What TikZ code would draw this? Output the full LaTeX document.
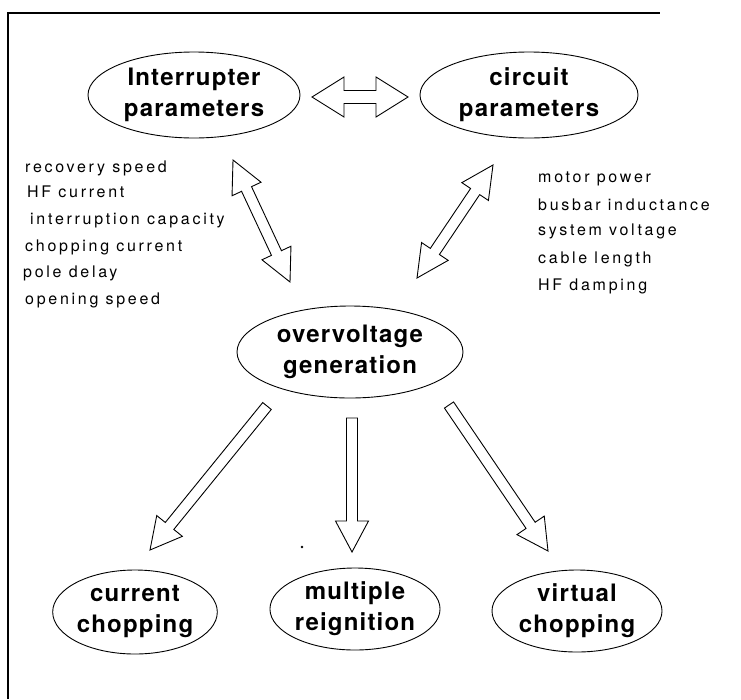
\documentclass[tikz,border=0pt]{standalone}
\usepackage{fontspec}
\setmainfont{TeX Gyre Heros}
\newfontfamily\listfont[LetterSpace=17]{TeX Gyre Heros}
\newfontfamily\bubblefont[LetterSpace=5]{TeX Gyre Heros}
\usetikzlibrary{calc, shapes.geometric}

% hollow block arrows: from, to, shaft half-width, head half-width, head length
\newcommand{\hollowarrow}[5]{%
  \coordinate (neck) at ($(#2)!#5!(#1)$);
  \draw[blockarrow] ($(#1)!#3!90:(#2)$) -- ($(neck)!#3!90:(#2)$) -- ($(neck)!#4!90:(#2)$) -- (#2)
    -- ($(neck)!#4!-90:(#2)$) -- ($(neck)!#3!-90:(#2)$) -- ($(#1)!#3!-90:(#2)$) -- cycle;
}
\newcommand{\hollowdarrow}[5]{%
  \coordinate (neckA) at ($(#1)!#5!(#2)$);
  \coordinate (neckB) at ($(#2)!#5!(#1)$);
  \draw[blockarrow] (#1) -- ($(neckA)!#4!90:(#2)$) -- ($(neckA)!#3!90:(#2)$) -- ($(neckB)!#3!90:(#2)$)
    -- ($(neckB)!#4!90:(#2)$) -- (#2) -- ($(neckB)!#4!-90:(#2)$) -- ($(neckB)!#3!-90:(#2)$)
    -- ($(neckA)!#3!-90:(#2)$) -- ($(neckA)!#4!-90:(#2)$) -- cycle;
}

\begin{document}
\begin{tikzpicture}[x=1pt, y=-1pt,
    bubble/.style={ellipse, draw, line width=0.9pt, inner sep=0pt, align=center,
      font=\bubblefont\bfseries\fontsize{24}{31}\selectfont},
    blockarrow/.style={draw, line width=0.9pt, line join=miter, fill=white},
    item/.style={anchor=base west, inner sep=0pt, font=\listfont\fontsize{16}{18}\selectfont}]
  \useasboundingbox (0,0) rectangle (741,699);
  % frame
  \draw[line width=1.2pt] (8,699) -- (8,13) -- (660,13);

  % parameter groups
  \node[bubble, minimum width=212, minimum height=86] (ip) at (194,95) {Interrupter\\parameters};
  \node[bubble, minimum width=218, minimum height=86] (cp) at (529,95) {circuit\\parameters};
  \node[bubble, minimum width=226, minimum height=92] (gen) at (350,352) {overvoltage\\generation};

  % results
  \node[bubble, minimum width=160, minimum height=84] (cc) at (135,612) {current\\chopping};
  \node[bubble, minimum width=146, minimum height=82] (mr) at (355,609) {multiple\\reignition};
  \node[bubble, minimum width=170, minimum height=82] (vc) at (577,611) {virtual\\chopping};

  % interrupter list
  \node[item] (i1) at (25,172) {recovery speed};
  \node[item] (i2) at (27,197) {HF current};
  \node[item] (i3) at (30,224) {interruption capacity};
  \node[item] (i4) at (25,251) {chopping current};
  \node[item] (i5) at (23,277) {pole delay};
  \node[item] (i6) at (25,304) {opening speed};

  % circuit list
  \node[item] (c1) at (538,182) {motor power};
  \node[item] (c2) at (538,210) {busbar inductance};
  \node[item] (c3) at (538,235) {system voltage};
  \node[item] (c4) at (538,263) {cable length};
  \node[item] (c5) at (538,290) {HF damping};

  % arrow ends
  \coordinate (ipcp1) at (312,97);  \coordinate (ipcp2) at (408,97);
  \coordinate (ipgen1) at (233,160); \coordinate (ipgen2) at (290,282);
  \coordinate (cpgen1) at (493,165); \coordinate (cpgen2) at (417,278);
  \coordinate (gencc1) at (267,406); \coordinate (gencc2) at (150,550);
  \coordinate (genmr1) at (352,418); \coordinate (genmr2) at (352,552);
  \coordinate (genvc1) at (449,405); \coordinate (genvc2) at (548,551);

  \hollowdarrow{ipcp1}{ipcp2}{6.5pt}{20pt}{32pt}
  \hollowdarrow{ipgen1}{ipgen2}{5.5pt}{16pt}{32pt}
  \hollowdarrow{cpgen1}{cpgen2}{5.5pt}{16pt}{32pt}
  \hollowarrow{gencc1}{gencc2}{5.5pt}{16.5pt}{31pt}
  \hollowarrow{genmr1}{genmr2}{5.5pt}{16.5pt}{31pt}
  \hollowarrow{genvc1}{genvc2}{5.5pt}{16.5pt}{31pt}

  \fill (302,547) circle (1.3);
\end{tikzpicture}
\end{document}
